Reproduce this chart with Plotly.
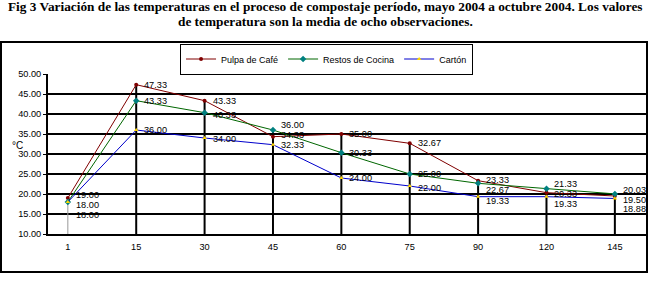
import plotly.graph_objects as go

dias = ["1", "15", "30", "45", "60", "75", "90", "120", "145"]
pulpa_cafe = [19.00, 47.33, 43.33, 34.33, 35.00, 32.67, 23.33, 20.33, 19.50]
restos_cocina = [18.00, 43.33, 40.33, 36.00, 30.33, 25.00, 22.67, 21.33, 20.03]
carton = [18.00, 36.00, 34.00, 32.33, 24.00, 22.00, 19.33, 19.33, 18.88]
y_ticks = [10, 15, 20, 25, 30, 35, 40, 45, 50]

# label vertical offsets in pixels (style only)
off_red = [3, 0, 0, 2, 0, 0, 1, -1, -4]
off_green = [-3, 0, -2, 5, 0, 0, -7, 5, 4]
off_blue = [-13, 0, -1, 0, 0, -2, -4, -7, -11]

pos = list(range(len(dias)))
FONT = "Liberation Sans, Arial, sans-serif"
fs = 9.2

fig = go.Figure()

# drop lines from highest point of each category to the axis
maxv = [max(a, b, c) for a, b, c in zip(pulpa_cafe, restos_cocina, carton)]
dx, dy = [], []
for i, m in zip(pos[1:], maxv[1:]):
    dx += [i, i, None]
    dy += [y_ticks[0], m, None]
fig.add_trace(go.Scatter(x=dx, y=dy, mode="lines", line=dict(color="black", width=2),
                         showlegend=False, hoverinfo="skip"))
fig.add_trace(go.Scatter(x=[pos[0], pos[0]], y=[y_ticks[0], maxv[0]], mode="lines",
                         line=dict(color="#999999", width=1), showlegend=False, hoverinfo="skip"))

series = [
    ("Pulpa de Café", pulpa_cafe, "#800000", dict(symbol="circle", size=4, color="#800000"), off_red),
    ("Restos de Cocina", restos_cocina, "#006600", dict(symbol="diamond", size=5, color="#008080"), off_green),
    ("Cartón", carton, "#0000CC", dict(symbol="triangle-up", size=4, color="#FFD700"), off_blue),
]
for name, vals, col, mk, offs in series:
    fig.add_trace(go.Scatter(x=pos, y=vals, name=name, mode="lines+markers",
                             line=dict(color=col, width=1), marker=mk))
    for i, v, o in zip(pos, vals, offs):
        fig.add_annotation(x=i, y=v, text=f"{v:.2f}", showarrow=False, xanchor="left",
                           yanchor="middle", xshift=7, yshift=o, borderpad=0,
                           font=dict(size=fs, color="black", family=FONT))

def py(p):
    return (234 - p) / 160

fig.update_layout(
    width=650, height=287,
    margin=dict(l=48, r=3, t=74, b=53),
    paper_bgcolor="white", plot_bgcolor="white",
    font=dict(family=FONT, size=fs, color="black"),
    xaxis=dict(range=[-0.29, 8.47], tickvals=pos, ticktext=dias, showgrid=False, zeroline=False,
               showline=True, linecolor="black", linewidth=2, ticks="outside", ticklen=3, tickcolor="white",
               tickfont=dict(size=fs)),
    yaxis=dict(range=[10, 50], tickvals=y_ticks, tickformat=".2f", showgrid=True, gridcolor="black",
               gridwidth=2, zeroline=False, showline=True, linecolor="black", linewidth=2,
               ticks="outside", ticklen=3, tickcolor="black", tickfont=dict(size=fs)),
    legend=dict(orientation="h", x=0.465, xanchor="center", y=py(59), yanchor="middle",
                bordercolor="black", borderwidth=1, font=dict(size=9), bgcolor="white",
                itemwidth=30, tracegroupgap=0),
    showlegend=True,
)
fig.add_shape(type="rect", xref="paper", yref="paper", x0=(1 - 48) / 599, x1=1.0,
              y0=py(272), y1=py(42), line=dict(color="black", width=2), layer="above")
fig.add_annotation(text="°C", xref="paper", yref="paper", x=(10 - 48) / 599, y=py(145),
                   showarrow=False, font=dict(size=10))
title1 = "Fig 3 Variación de las temperaturas en el proceso de compostaje período, mayo 2004 a octubre 2004. Los valores"
title2 = "de temperatura son la media de ocho observaciones."
for t, p in [(title1, 6.5), (title2, 21.5)]:
    fig.add_annotation(text=f"<b>{t}</b>", xref="paper", yref="paper", x=(325 - 48) / 599, y=py(p),
                       showarrow=False, xanchor="center", yanchor="middle",
                       font=dict(family="Liberation Serif, Times New Roman, serif", size=13.3, color="black"))

fig.write_html("out.html", config={"displayModeBar": False},
               post_script="document.body.style.margin='0';document.body.style.overflow='hidden';")
